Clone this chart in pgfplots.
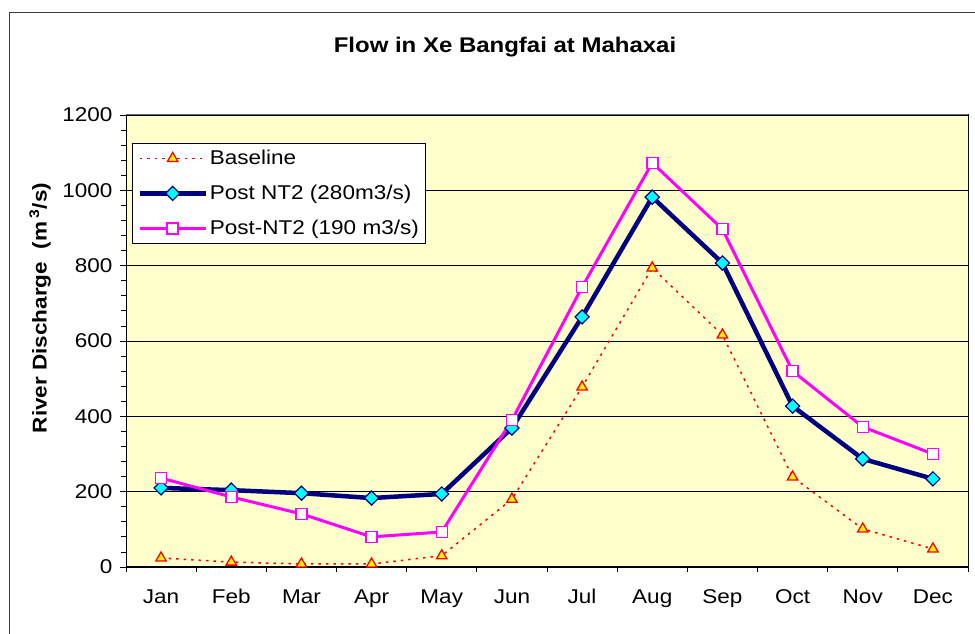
\documentclass[border=0pt]{standalone}
\usepackage{pgfplots}
\pgfplotsset{compat=1.18}
\usepackage{fontspec}
\setmainfont{Liberation Sans}[FakeStretch=1.13]
\definecolor{bgyel}{HTML}{FFFFCC}
\definecolor{navyc}{HTML}{000080}
\definecolor{cyanc}{HTML}{00FFFF}
\definecolor{magc}{HTML}{FF00FF}
\newcommand{\lbl}{\fontsize{20pt}{24pt}\selectfont}
\begin{document}
\begin{tikzpicture}
\useasboundingbox (0bp,0bp) rectangle (975bp,634bp);
\draw[black!75, line width=1bp] (9bp,-5bp) -- (9bp,621.5bp) -- (985bp,621.5bp);
\node[font=\fontsize{21.3pt}{25pt}\selectfont\bfseries] at (505bp,587bp) {Flow in Xe Bangfai at Mahaxai};
\node[rotate=90, font=\lbl\bfseries] at (40bp,326bp) {River Discharge\ \ (m\,\textsuperscript{3}/s)};
\begin{axis}[
  at={(126bp,67bp)}, anchor=south west, scale only axis,
  width=842bp, height=452bp,
  xmin=-0.5, xmax=11.5, ymin=0, ymax=1200,
  xtick={0,...,11},
  xticklabels={Jan,Feb,Mar,Apr,May,Jun,Jul,Aug,Sep,Oct,Nov,Dec},
  minor xtick={-0.5,0.5,...,11.5},
  major x tick style={draw=none},
  xtick pos=bottom, ytick pos=left,
  ytick={0,200,...,1200}, minor y tick num=4,
  tick align=outside, major tick length=6bp, minor tick length=5bp,
  ymajorgrids, grid style={black, line width=0.8bp},
  axis background/.style={fill=bgyel},
  axis line style={black, line width=1bp},
  tick style={black, line width=0.8bp},
  ticklabel style={font=\lbl},
  xticklabel style={yshift=-13bp},
  yticklabel style={xshift=-4bp},
  /pgf/number format/assume math mode=true, /pgf/number format/1000 sep={},
  legend style={at={(0.007,0.938)}, anchor=north west, draw=black, fill=white, font=\lbl, line width=1bp, row sep=15bp, inner sep=5bp},
  legend cell align=left,
  legend image code/.code={\draw[mark repeat=2,mark phase=2] plot coordinates {(0bp,0bp) (33bp,0bp) (66bp,0bp)};},
]
\addplot[red, line width=1.5bp, dash pattern=on 2.5bp off 5bp, mark=triangle*, mark size=6bp, mark options={solid, fill=yellow, draw=red, line width=1.3bp}]
 coordinates {(0,24) (1,13) (2,8) (3,8) (4,30) (5,180) (6,478) (7,794) (8,616) (9,239) (10,101) (11,48)};
\addlegendentry{Baseline}
\addplot[navyc, line width=4.5bp, mark=square*, mark size=5bp, mark options={rotate=45, fill=cyanc, draw=navyc, line width=1.2bp}]
 coordinates {(0,210) (1,204) (2,196) (3,183) (4,194) (5,369) (6,664) (7,982) (8,807) (9,427) (10,287) (11,234)};
\addlegendentry{Post NT2 (280m3/s)}
\addplot[magc, line width=3bp, mark=square*, mark size=5.5bp, mark options={fill=white, draw=magc, line width=1.5bp}]
 coordinates {(0,236) (1,186) (2,141) (3,80) (4,93) (5,390) (6,743) (7,1073) (8,897) (9,520) (10,372) (11,300)};
\addlegendentry{Post-NT2 (190 m3/s)}
\draw[black!60, line width=1bp] (rel axis cs:0,1) -- (rel axis cs:1,1) -- (rel axis cs:1,0);
\end{axis}
\end{tikzpicture}
\end{document}
